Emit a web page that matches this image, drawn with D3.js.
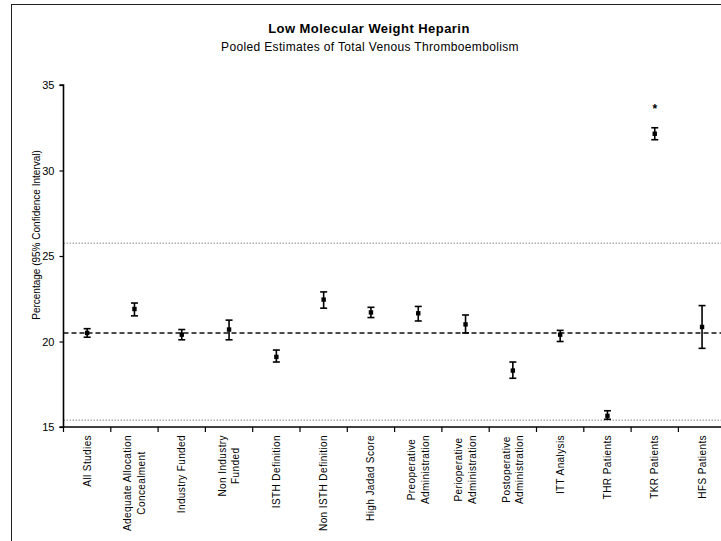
<!DOCTYPE html>
<html>
<head>
<meta charset="utf-8">
<script src="https://cdn.jsdelivr.net/npm/d3@7"></script>
<style>
  html, body { margin: 0; padding: 0; background: #fff; overflow: hidden; }
  svg { display: block; font-family: "Liberation Sans", Arial, sans-serif; }
</style>
</head>
<body>
<svg id="chart" width="721" height="541"></svg>
<script>
// Subgroups of the pooled analysis
const categories = [
  "All Studies",
  "Adequate Allocation\nConcealment",
  "Industry Funded",
  "Non Industry\nFunded",
  "ISTH Definition",
  "Non ISTH Definition",
  "High Jadad Score",
  "Preoperative\nAdministration",
  "Perioperative\nAdministration",
  "Postoperative\nAdministration",
  "ITT Analysis",
  "THR Patients",
  "TKR Patients",
  "HFS Patients"
];
// Pooled estimate and 95% confidence limits (%)
const estimates = [20.5, 21.9, 20.4, 20.7, 19.1, 22.45, 21.7, 21.65, 21.0, 18.3, 20.4, 15.65, 32.15, 20.85];
const lowerCI   = [20.25, 21.5, 20.1, 20.1, 18.8, 21.95, 21.4, 21.2, 20.5, 17.85, 20.0, 15.45, 31.8, 19.6];
const upperCI   = [20.75, 22.25, 20.7, 21.25, 19.5, 22.9, 22.0, 22.05, 21.55, 18.8, 20.65, 15.95, 32.5, 22.1];
// Significance flags
const flags     = ["", "", "", "", "", "", "", "", "", "", "", "", "*", ""];
// Overall pooled estimate and the outer reference limits
const overall = 20.5;
const limits = [25.75, 15.4];
const yTicks = [15, 20, 25, 30, 35];

const svg = d3.select("#chart");

// Outer frame
svg.append("rect")
  .attr("x", 11.5).attr("y", 4.5)
  .attr("width", 760).attr("height", 600)
  .attr("fill", "none").attr("stroke", "#222").attr("stroke-width", 1);

// Titles
svg.append("text")
  .attr("x", 369).attr("y", 33)
  .attr("text-anchor", "middle")
  .attr("font-size", 13).attr("font-weight", "bold")
  .attr("letter-spacing", 0.45)
  .text("Low Molecular Weight Heparin");
svg.append("text")
  .attr("x", 370).attr("y", 51)
  .attr("text-anchor", "middle")
  .attr("font-size", 12)
  .attr("letter-spacing", 0.35)
  .text("Pooled Estimates of Total Venous Thromboembolism");

const plotLeft = 63.5, plotBottom = 427, plotTop = 85;
const step = 47.3;
const plotRight = plotLeft + categories.length * step;
const x = d3.scaleBand().domain(categories).range([plotLeft, plotRight]);
const y = d3.scaleLinear().domain([15, 35]).range([plotBottom, plotTop]);

// Reference lines
svg.selectAll("line.limit").data(limits).join("line")
  .attr("class", "limit")
  .attr("x1", plotLeft).attr("x2", plotRight)
  .attr("y1", d => y(d)).attr("y2", d => y(d))
  .attr("stroke", "#888").attr("stroke-width", 1)
  .attr("stroke-dasharray", "1.5,1.5");
svg.append("line")
  .attr("x1", plotLeft).attr("x2", plotRight)
  .attr("y1", y(overall)).attr("y2", y(overall))
  .attr("stroke", "#111").attr("stroke-width", 1.4)
  .attr("stroke-dasharray", "5,3");

// Y axis
const yAxis = d3.axisLeft(y).tickValues(yTicks).tickSize(4).tickPadding(5).tickFormat(d3.format("d"));
const gy = svg.append("g").attr("transform", `translate(${plotLeft},0)`).call(yAxis);
gy.select(".domain").attr("stroke", "#000").attr("stroke-width", 1.6)
  .attr("d", `M-4,${plotTop}H0V${plotBottom}H-4`);
gy.selectAll(".tick line").attr("stroke", "#000").attr("stroke-width", 1.2);
gy.selectAll(".tick text").attr("font-size", 11).attr("fill", "#000")
  .attr("font-family", "'Liberation Sans', Arial, sans-serif");

svg.append("text")
  .attr("transform", `translate(40,${(plotTop + plotBottom) / 2 - 21}) rotate(-90)`)
  .attr("text-anchor", "middle")
  .attr("font-size", 10)
  .text("Percentage (95% Confidence Interval)");

// X axis: ticks at category boundaries
const gx = svg.append("g");
gx.append("line")
  .attr("x1", plotLeft).attr("x2", plotRight)
  .attr("y1", plotBottom).attr("y2", plotBottom)
  .attr("stroke", "#000").attr("stroke-width", 1.6);
const bounds = categories.map(c => x(c)).concat([plotRight]);
gx.selectAll("line.tk").data(bounds).join("line")
  .attr("class", "tk")
  .attr("x1", d => d).attr("x2", d => d)
  .attr("y1", plotBottom).attr("y2", plotBottom + 5)
  .attr("stroke", "#000").attr("stroke-width", 1.2);

// Rotated category labels; lines centred within each block, block anchored at the axis
const lineGap = 13.5;
categories.forEach(c => {
  const lines = c.split("\n");
  const cx = x(c) + x.bandwidth() / 2;
  const g = svg.append("g");
  const texts = lines.map(t => g.append("text")
    .attr("font-size", 10)
    .attr("letter-spacing", 0.4)
    .attr("text-anchor", "middle")
    .text(t));
  const maxW = d3.max(texts, t => t.node().getComputedTextLength());
  const mid = plotBottom + 8 + maxW / 2;
  texts.forEach((t, i) => t.attr("transform",
    `translate(${cx + (i - (lines.length - 1) / 2) * lineGap + 3.5},${mid}) rotate(-90)`));
});

// Error bars with caps and point estimates
const rows = categories.map((c, i) => ({ c, est: estimates[i], lo: lowerCI[i], hi: upperCI[i], flag: flags[i] }));
const marks = svg.append("g");
const cap = 3.5;
rows.forEach(r => {
  const cx = x(r.c) + x.bandwidth() / 2;
  marks.append("line")
    .attr("x1", cx).attr("x2", cx).attr("y1", y(r.lo)).attr("y2", y(r.hi))
    .attr("stroke", "#000").attr("stroke-width", 1.6);
  [r.lo, r.hi].forEach(v => marks.append("line")
    .attr("x1", cx - cap).attr("x2", cx + cap).attr("y1", y(v)).attr("y2", y(v))
    .attr("stroke", "#000").attr("stroke-width", 1.6));
  marks.append("rect")
    .attr("x", cx - 2.2).attr("y", y(r.est) - 2.2)
    .attr("width", 4.4).attr("height", 4.4)
    .attr("fill", "#000");
  if (r.flag) {
    marks.append("text")
      .attr("x", cx).attr("y", y(r.hi) - 15)
      .attr("text-anchor", "middle")
      .attr("font-size", 12).attr("font-weight", "bold")
      .text(r.flag);
  }
});
</script>
</body>
</html>
